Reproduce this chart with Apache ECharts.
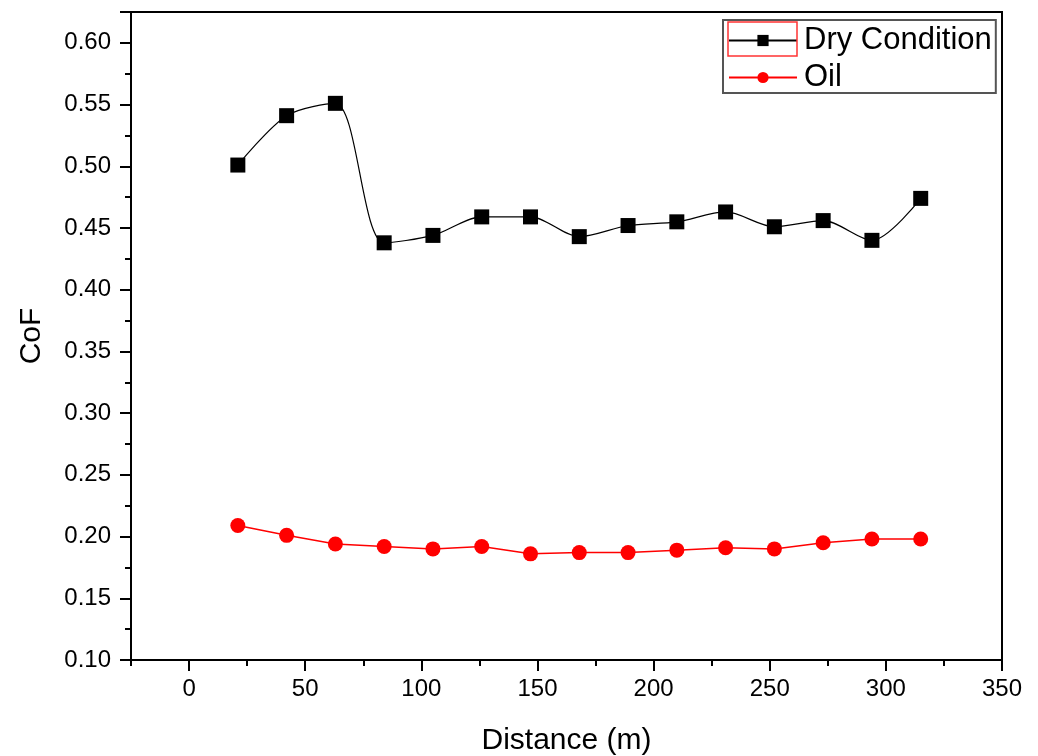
<!DOCTYPE html>
<html><head><meta charset="utf-8">
<script src="https://cdn.jsdelivr.net/npm/echarts@6/dist/echarts.min.js"></script>
<style>html,body{margin:0;padding:0;background:#fff}#c{width:1038px;height:756px}</style>
</head><body><div id="c"></div>
<script>
const distance = [21, 42, 63, 84, 105, 126, 147, 168, 189, 210, 231, 252, 273, 294, 315];
const dryCondition = [0.501, 0.541, 0.551, 0.438, 0.444, 0.459, 0.459, 0.443, 0.452, 0.455, 0.463, 0.451, 0.456, 0.440, 0.474];
const oil = [0.209, 0.201, 0.194, 0.192, 0.190, 0.192, 0.186, 0.187, 0.187, 0.189, 0.191, 0.190, 0.195, 0.198, 0.198];
const seriesNames = ['Dry Condition', 'Oil'];
const xMajorTicks = [0, 50, 100, 150, 200, 250, 300, 350];
const xMinorTicks = [-25, 25, 75, 125, 175, 225, 275, 325];

const chart = echarts.init(document.getElementById('c'), null, {renderer: 'canvas'});
const font = 'Liberation Sans';
chart.setOption({
  animation: false,
  backgroundColor: '#fff',
  grid: {left: 131, right: 36, top: 12, bottom: 96, show: true, borderColor: '#000', borderWidth: 2,
         containLabel: false, outerBoundsMode: 'none'},
  xAxis: [
    {
      type: 'value', min: -25, max: 350, interval: 25, position: 'bottom',
      name: 'Distance (m)', nameLocation: 'middle', nameGap: 66,
      nameTextStyle: {color: '#000', fontFamily: font, fontSize: 30},
      axisLine: {show: true, onZero: false, lineStyle: {color: '#000', width: 2}},
      axisTick: {show: true, inside: false, length: 11, customValues: xMajorTicks, lineStyle: {color: '#000', width: 2}},
      minorTick: {show: false},
      splitLine: {show: false},
      axisLabel: {color: '#000', fontFamily: font, fontSize: 24, margin: 17, customValues: xMajorTicks}
    },
    {
      type: 'value', min: -25, max: 350, interval: 25, position: 'bottom',
      axisLine: {show: false, onZero: false},
      axisTick: {show: true, inside: false, length: 6, customValues: xMinorTicks, lineStyle: {color: '#000', width: 2}},
      splitLine: {show: false},
      axisLabel: {show: false}
    }
  ],
  yAxis: {
    type: 'value', min: 0.10, max: 0.625, interval: 0.05,
    name: 'CoF', nameLocation: 'middle', nameGap: 84,
    nameTextStyle: {color: '#000', fontFamily: font, fontSize: 30},
    axisLine: {show: true, onZero: false, lineStyle: {color: '#000', width: 2}},
    axisTick: {show: true, inside: false, length: 11, lineStyle: {color: '#000', width: 2}},
    minorTick: {show: true, splitNumber: 2, length: 6, lineStyle: {color: '#000', width: 2}},
    splitLine: {show: false},
    axisLabel: {color: '#000', fontFamily: font, fontSize: 24, margin: 20,
      formatter: v => (v > 0.601 ? '' : v.toFixed(2))}
  },
  legend: {
    left: 723, top: 20, orient: 'vertical',
    padding: [5, 4, 0, 5], itemGap: 6,
    itemWidth: 68, itemHeight: 14,
    borderColor: '#555', borderWidth: 2,
    textStyle: {color: '#000', fontFamily: font, fontSize: 31, padding: [0, 0, 0, 2]},
    data: seriesNames
  },
  series: [
    {
      name: seriesNames[0], type: 'line', smooth: 0.3, xAxisIndex: 0,
      data: distance.map((d, i) => [d, dryCondition[i]]),
      symbol: 'rect', symbolSize: 15,
      itemStyle: {color: '#000'},
      lineStyle: {color: '#000', width: 1.2}
    },
    {
      name: seriesNames[1], type: 'line', smooth: false, xAxisIndex: 0,
      data: distance.map((d, i) => [d, oil[i]]),
      symbol: 'circle', symbolSize: 15,
      itemStyle: {color: '#ff0000'},
      lineStyle: {color: '#ff0000', width: 1.5}
    }
  ],
  graphic: [
    {type: 'rect', shape: {x: 728, y: 22, width: 69, height: 34}, style: {fill: 'none', stroke: '#ff3333', lineWidth: 1.5}, z: 100}
  ]
});
</script></body></html>
